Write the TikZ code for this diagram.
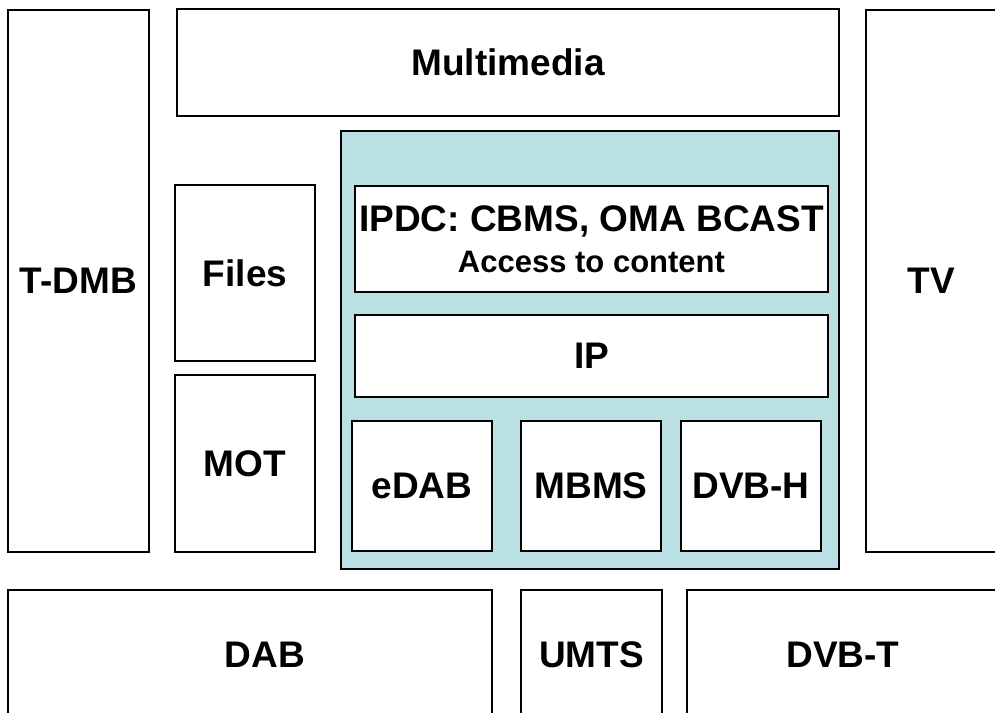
\documentclass[tikz,border=0pt]{standalone}
\usepackage{fontspec}
\setmainfont{Liberation Sans}
\definecolor{tealbg}{RGB}{187,224,227}
\begin{document}
\begin{tikzpicture}[x=1bp,y=-1bp,
  box/.style={draw=black, line width=2bp, fill=white, inner sep=0pt, anchor=center,
              font=\fontsize{37bp}{40bp}\selectfont\bfseries},
  group/.style={draw=black, line width=2bp, fill=tealbg, inner sep=0pt, anchor=center}]
\useasboundingbox (0,0) rectangle (995,713);
\fill[white] (0,0) rectangle (995,713);
\node[box, minimum width=141bp, minimum height=542bp] (tdmb) at (78.5,281) {T-DMB};
\node[box, minimum width=662bp, minimum height=107bp] (multi) at (508,62.5) {Multimedia};
\node[box, minimum width=131bp, minimum height=542bp] (tv) at (931.5,281) {TV};
\node[group, minimum width=498bp, minimum height=438bp] (ipdcbg) at (590,350) {};
\node[box, minimum width=140bp, minimum height=176bp] (files) at (245,273) {Files};
\node[box, minimum width=140bp, minimum height=177bp] (mot) at (245,463.5) {MOT};
\node[box, minimum width=473bp, minimum height=106bp, align=center] (ipdc) at (591.5,239)
  {IPDC: CBMS, OMA BCAST\\[1bp]{\fontsize{31bp}{37bp}\selectfont Access to content}};
\node[box, minimum width=473bp, minimum height=82bp] (ip) at (591.5,356) {IP};
\node[box, minimum width=140bp, minimum height=130bp] (edab) at (422,486) {eDAB};
\node[box, minimum width=140bp, minimum height=130bp] (mbms) at (591,486) {MBMS};
\node[box, minimum width=140bp, minimum height=130bp] (dvbh) at (751,486) {DVB-H};
\node[box, minimum width=484bp, minimum height=130bp] (dab) at (250,655) {\hspace*{30bp}DAB};
\node[box, minimum width=141bp, minimum height=130bp] (umts) at (591.5,655) {UMTS};
\node[box, minimum width=312bp, minimum height=130bp] (dvbt) at (843,655) {DVB-T};
\end{tikzpicture}
\end{document}
